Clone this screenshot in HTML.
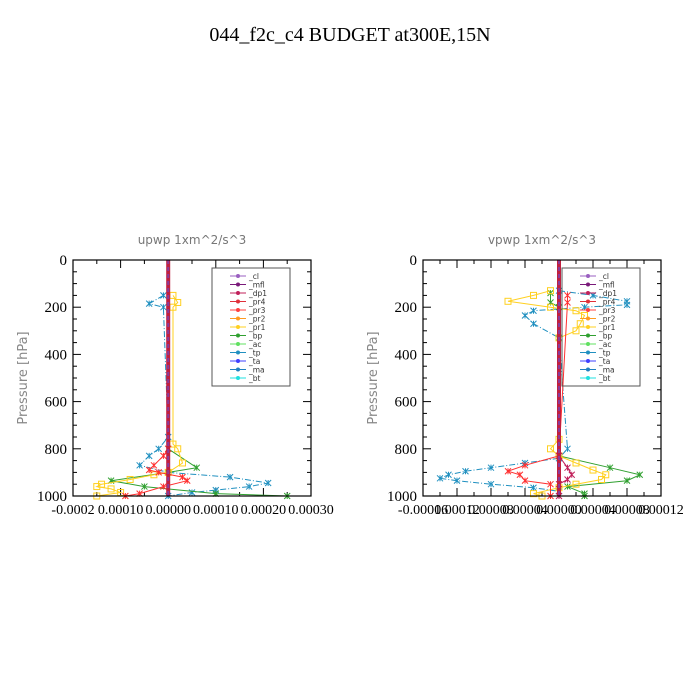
<!DOCTYPE html>
<html><head><meta charset="utf-8"><style>
body{margin:0;background:#fff;width:700px;height:700px;overflow:hidden}
svg{display:block}
</style></head><body>
<svg id="c" width="700" height="700" xmlns="http://www.w3.org/2000/svg">
<text x="350" y="41" text-anchor="middle" font-family="Liberation Serif,serif" font-size="20">044_f2c_c4  BUDGET at300E,15N</text>
</svg>
<script>
// ---- data (values in units of 1e-5 m^2/s^3) ----
const yTicks=[0,200,400,600,800,1000];
const legendNames=["_cl","_mfl","_dp1","_pr4","_pr3","_pr2","_pr1","_bp","_ac","_tp","_ta","_ma","_bt"];
const legendColors=["#9a5fc0","#7a1a7a","#c0205a","#e0303a","#ff4040","#ff9a20","#ffd020","#30a030","#60e060","#2090c0","#4040ff","#2080c0","#20e0e0"];
const u_xTicks=[-0.0002,-0.0001,0,0.0001,0.0002,0.0003];
const u_xLabels=["-0.0002","0.00010","0.00000","0.00010","0.00020","0.00030"];
const u_tpP=[150,185,200,750,800,830,870,900,920,945,960,975,985,1000];
const u_tpV=[-1,-4,-1,0,-2,-4,-6,0,13,21,17,10,5,0];
const u_bpP=[800,880,900,935,960,990,1000];
const u_bpV=[0,6,0,-12,-5,10,25];
const u_pr1P=[150,180,200,780,800,860,900,910,930,950,960,970,985,1000];
const u_pr1V=[1,2,1,1,2,3,0,-3,-8,-14,-15,-12,-10,-15];
const u_pr3P=[800,830,870,890,900,920,935,960,990,1000];
const u_pr3V=[0,-1,-3,-4,-2,3,4,-1,-6,-9];
const v_xTicks=[-0.00016,-0.00012,-0.00008,-0.00004,0,0.00004,0.00008,0.00012];
const v_xLabels=["-0.00016","0.00012","0.00008","0.00004","0.00000","0.00004","0.00008","0.00012"];
const v_tpP=[130,150,175,190,200,215,235,270,330,800,840,860,880,895,910,925,935,950,965,980];
const v_tpV=[0,4,8,8,3,-3,-4,-3,0,1,0,-4,-8,-11,-13,-14,-12,-8,-3,0];
const v_pr1P=[130,150,175,200,215,235,270,300,330,760,800,830,860,890,910,930,950,965,990,1000];
const v_pr1V=[-1,-3,-6,-1,2,3,2.5,2,0,0,-1,0,2,4,5.5,5,2,0,-3,-2];
const v_bpP=[140,180,200,830,880,910,935,960,990,1000];
const v_bpV=[-1,-1,0,0,6,9.5,8,1,3,3];
const v_pr3P=[150,180,830,870,895,910,935,950,1000];
const v_pr3V=[1,1,0,-4,-6,-4.6,-4,-1,-1];
const v_dpP=[830,880,910,930,950,1000];
const v_dpV=[0,1,1.5,1,0,0];

const svg=document.getElementById('c');
const NS="http://www.w3.org/2000/svg";
function mk(tag,attrs,parent){const e=document.createElementNS(NS,tag);for(const k in attrs)e.setAttribute(k,attrs[k]);(parent||svg).appendChild(e);return e;}

function panel(id,L,R,xmin,xmax,xTicks,xLabels,title,series){
  const T=260,B=496;
  const g=mk('g',{});
  
  
  const xs=v=>L+(v*1e-5-xmin)/(xmax-xmin)*(R-L);
  const xv=v=>L+(v-xmin)/(xmax-xmin)*(R-L);
  const ys=p=>T+p/1000*(B-T);
  const t=mk('text',{x:(L+R)/2,y:244,'text-anchor':'middle','font-family':'DejaVu Sans,sans-serif','font-size':12,fill:'#777'},g);
  t.textContent=title;
  
  
  const yl=mk('text',{x:0,y:0,transform:`translate(${L-46},378) rotate(-90)`,'text-anchor':'middle','font-family':'DejaVu Sans,sans-serif','font-size':13,fill:'#888'},g);
  yl.textContent='Pressure [hPa]';
  
  
  // minor y ticks
  for(let p=0;p<=1000;p+=50){const y=ys(p);const len=p%200===0?8:4;
    mk('line',{x1:L,y1:y,x2:L+len,y2:y,stroke:'#000'},g);mk('line',{x1:R,y1:y,x2:R-len,y2:y,stroke:'#000'},g);}
  yTicks.forEach(p=>{const tx=mk('text',{x:L-6,y:ys(p)+5,'text-anchor':'end','font-family':'Liberation Serif,serif','font-size':15},g);tx.textContent=p;
    
    });
  xTicks.forEach((v,i)=>{const x=xv(v);
    mk('line',{x1:x,y1:B,x2:x,y2:B-8,stroke:'#000'},g);mk('line',{x1:x,y1:T,x2:x,y2:T+8,stroke:'#000'},g);
    if(i<xTicks.length-1){const xm=xv((v+xTicks[i+1])/2);mk('line',{x1:xm,y1:B,x2:xm,y2:B-4,stroke:'#000'},g);mk('line',{x1:xm,y1:T,x2:xm,y2:T+4,stroke:'#000'},g);}
    const tx=mk('text',{x:x,y:B+18,'text-anchor':'middle','font-family':'Liberation Serif,serif','font-size':14},g);tx.textContent=xLabels[i];
    
    });
  // series
  series.forEach(s=>{
    const pts=s.p.map((p,i)=>xs(s.v[i]).toFixed(1)+','+ys(p).toFixed(1)).join(' ');
    const pl=mk('polyline',{points:pts,fill:'none',stroke:s.c,'stroke-width':1,'stroke-dasharray':s.d||''},g);
    
    
    s.p.forEach((p,i)=>{const x=xs(s.v[i]),y=ys(p);
      if(s.m==='sq')mk('rect',{x:x-3,y:y-3,width:6,height:6,fill:'none',stroke:s.c},g);
      else mk('path',{d:`M${x-3},${y-3}L${x+3},${y+3}M${x-3},${y+3}L${x+3},${y-3}M${x},${y-3}V${y+3}`,stroke:s.c,fill:'none'},g);});
  });
  // thick near-zero lines
  const z=xs(0);
  mk('line',{x1:z,y1:T,x2:z,y2:B,stroke:'#c02040','stroke-width':4},g);
  mk('line',{x1:z,y1:T,x2:z,y2:B,stroke:'#8a3a9a','stroke-width':2,'stroke-dasharray':'4 3'},g);
  mk('rect',{x:L,y:T,width:R-L,height:B-T,fill:'none',stroke:'#000','stroke-width':1.2},g);
  // legend
  const lx=L+139,ly=268;
  const lg=mk('g',{},g);
  
  
  mk('rect',{x:lx,y:ly,width:78,height:118,fill:'#fff','fill-opacity':id==='vpwp'?0:1,stroke:'#555'},lg);
  legendNames.forEach((n,i)=>{const y=ly+8+i*8.5;
    mk('line',{x1:lx+18,y1:y,x2:lx+34,y2:y,stroke:legendColors[i]},lg);
    mk('circle',{cx:lx+26,cy:y,r:2,fill:legendColors[i]},lg);
    const tx=mk('text',{x:lx+37,y:y+3,'font-family':'DejaVu Sans,sans-serif','font-size':7.5,fill:'#333'},lg);tx.textContent=n;
    
    });
}
panel('upwp',73,311,-0.0002,0.0003,u_xTicks,u_xLabels,'upwp   1xm^2/s^3',[
 {n:'tp',p:u_tpP,v:u_tpV,c:'#2090c0',d:'6 2 1 2',m:'x'},
 {n:'bp',p:u_bpP,v:u_bpV,c:'#30a030',m:'x'},
 {n:'pr1',p:u_pr1P,v:u_pr1V,c:'#ffd020',m:'sq'},
 {n:'pr3',p:u_pr3P,v:u_pr3V,c:'#ff3030',m:'x'}]);
panel('vpwp',423,661,-0.00016,0.00012,v_xTicks,v_xLabels,'vpwp   1xm^2/s^3',[
 {n:'tp',p:v_tpP,v:v_tpV,c:'#2090c0',d:'6 2 1 2',m:'x'},
 {n:'bp',p:v_bpP,v:v_bpV,c:'#30a030',m:'x'},
 {n:'pr1',p:v_pr1P,v:v_pr1V,c:'#ffd020',m:'sq'},
 {n:'pr3',p:v_pr3P,v:v_pr3V,c:'#ff3030',m:'x'},
 {n:'dp1',p:v_dpP,v:v_dpV,c:'#c0205a',m:'x'}]);
</script>
</body></html>
